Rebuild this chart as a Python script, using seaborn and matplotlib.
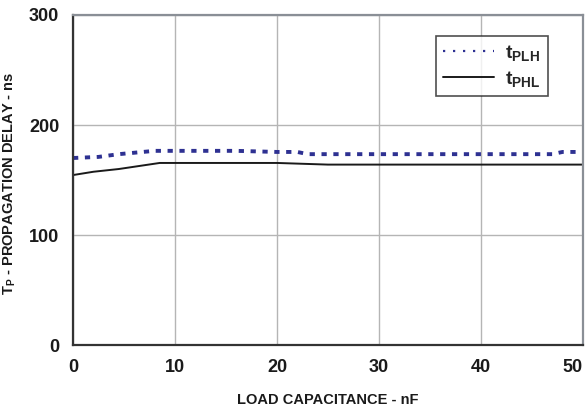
import matplotlib
matplotlib.use("Agg")
import matplotlib.pyplot as plt
from matplotlib.lines import Line2D
import seaborn as sns
import pandas as pd

cap_plh = [0, 2.5, 4.5, 8, 12, 16, 20, 22, 23, 30, 40, 47, 48, 50]
tplh = [170, 171, 173.5, 176.5, 176.5, 176.5, 175.5, 175.5, 173.5, 173.5, 173.5, 173.5, 175.5, 175.5]
cap_phl = [0, 2, 4.5, 8.5, 15, 20, 25, 30, 40, 50]
tphl = [154.5, 157.5, 160, 165.5, 165.5, 165.5, 164, 164, 164, 164]

sns.set_theme(style="white")
FONT = 'Liberation Sans'
plt.rcParams['font.family'] = [FONT, 'DejaVu Sans']
plt.rcParams['mathtext.fontset'] = 'custom'
plt.rcParams['mathtext.rm'] = FONT + ':bold'
plt.rcParams['mathtext.it'] = FONT + ':bold'
plt.rcParams['mathtext.bf'] = FONT + ':bold'

fig = plt.figure(figsize=(5.87, 4.12), dpi=100)
ax = fig.add_axes([0.1244, 0.1626, 0.8686, 0.801])

df1 = pd.DataFrame({"x": cap_plh, "y": tplh})
df2 = pd.DataFrame({"x": cap_phl, "y": tphl})
sns.lineplot(data=df1, x="x", y="y", ax=ax, color="#2e3192", lw=2.8,
             linestyle=(0, (1.35, 1.7)), estimator=None, sort=False)
sns.lineplot(data=df2, x="x", y="y", ax=ax, color="#1a1a1a", lw=1.4,
             estimator=None, sort=False)

ax.set_xlim(0, 50)
ax.set_ylim(0, 300)
ax.set_xticks([0, 10, 20, 30, 40, 50])
ax.set_yticks([0, 100, 200, 300])
ax.grid(True, color="#b5b5b5", lw=1.0)
ax.set_axisbelow(True)
for s in ["top", "right"]:
    ax.spines[s].set_color("#8a8f96")
    ax.spines[s].set_linewidth(1.6)
for s in ["left", "bottom"]:
    ax.spines[s].set_color("#333333")
    ax.spines[s].set_linewidth(1.6)
ax.tick_params(axis="both", direction="out", length=7, width=1.2, color="#333333",
               labelsize=13, pad=3, labelcolor="#1a1a1a")
for lab in ax.get_xticklabels() + ax.get_yticklabels():
    lab.set_fontweight("bold")
ax.get_xticklabels()[-1].set_horizontalalignment("right")

ax.set_xlabel("LOAD CAPACITANCE - nF", fontsize=10.5, fontweight="bold", labelpad=12,
              color="#1a1a1a")
ax.set_ylabel("T$_{\\mathrm{P}}$ - PROPAGATION DELAY - ns", fontsize=10.5,
              fontweight="bold", color="#1a1a1a")
ax.yaxis.set_label_coords(-0.108, 0.49)

handles = [Line2D([], [], color="#2e3192", lw=1.6, linestyle=(0, (1, 3.5))),
           Line2D([], [], color="#1a1a1a", lw=1.4)]
leg = ax.legend(handles, ["t$_{\\mathrm{PLH}}$", "t$_{\\mathrm{PHL}}$"],
                loc="upper right", bbox_to_anchor=(0.931, 0.936),
                prop={"size": 14, "weight": "bold"},
                frameon=True, fancybox=False, handlelength=2.6, borderpad=0.35,
                labelspacing=0.3, handletextpad=0.6, borderaxespad=0)
leg.get_frame().set_edgecolor("#222222")
leg.get_frame().set_linewidth(1.2)

fig.savefig("out.png", dpi=100)
